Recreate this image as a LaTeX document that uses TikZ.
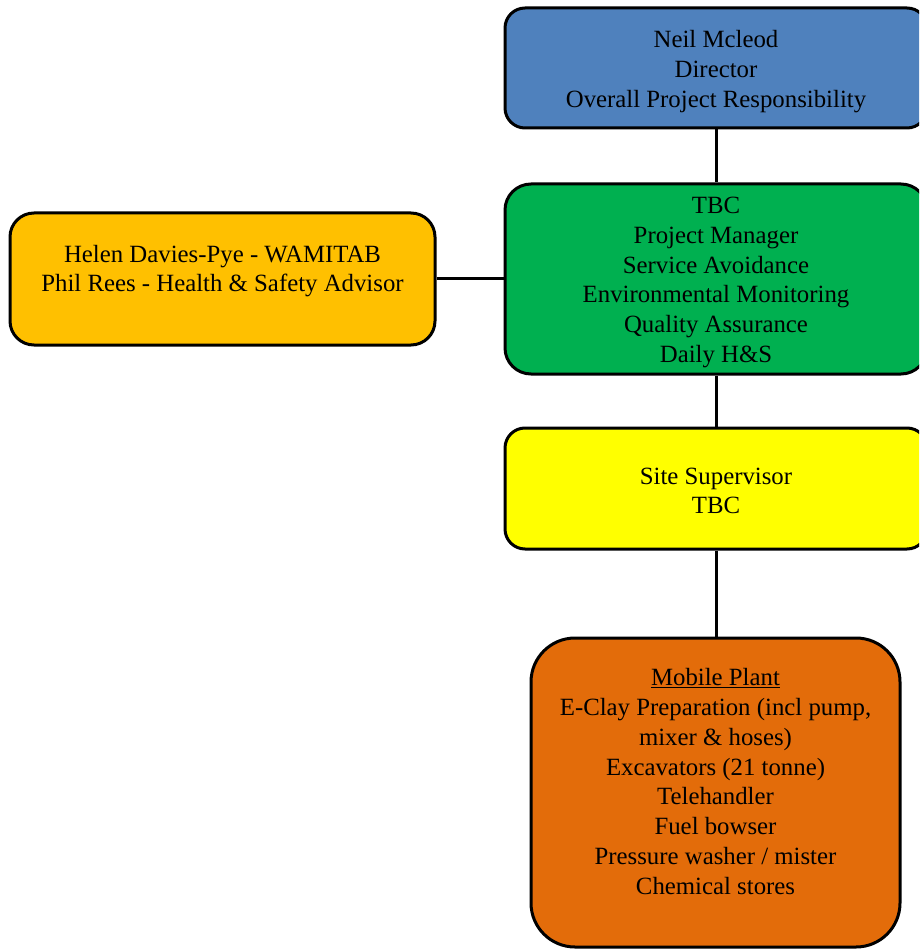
\documentclass[tikz,border=0pt]{standalone}
\usepackage{fontspec}
\setmainfont{Liberation Serif}
\definecolor{cblue}{RGB}{79,129,189}
\definecolor{cgreen}{RGB}{0,176,80}
\definecolor{cgold}{RGB}{255,192,0}
\definecolor{cyellow}{RGB}{255,255,0}
\definecolor{corange}{RGB}{227,108,10}
\begin{document}
\begin{tikzpicture}[x=1pt,y=-1pt,
  box/.style={draw=black,line width=3pt,rectangle,rounded corners=20pt,inner sep=0pt},
  txt/.style={inner sep=0pt,align=center,font={\fontsize{24.8pt}{29.8pt}\selectfont}},
  link/.style={draw=black,line width=3pt}]
\useasboundingbox (0,0) rectangle (919,949);
\clip (0,0) rectangle (919,949);
% boxes
\node[box,fill=cblue,minimum width=422pt,minimum height=120pt] (dir) at (716,68) {};
\node[txt] (dirtxt) at (716,71.5) {Neil Mcleod\\Director\\Overall Project Responsibility};
\node[box,fill=cgreen,rounded corners=26pt,minimum width=422pt,minimum height=190pt] (pm) at (716,279) {};
\node[txt] (pmtxt) at (716,282.5) {TBC\\Project Manager\\Service Avoidance\\Environmental Monitoring\\Quality Assurance\\Daily H\&S};
\node[box,fill=cgold,rounded corners=24pt,minimum width=425pt,minimum height=132pt] (adv) at (222.5,279) {};
\node[txt] (advtxt) at (222.5,271) {Helen Davies-Pye - WAMITAB\\Phil Rees - Health \& Safety Advisor};
\node[box,fill=cyellow,minimum width=422pt,minimum height=121pt] (sup) at (716,488.5) {};
\node[txt] (suptxt) at (716,491) {Site Supervisor\\TBC};
\node[box,fill=corange,rounded corners=44pt,minimum width=369pt,minimum height=309pt] (plant) at (715.5,792.5) {};
\node[txt] (planttxt) at (715.5,781.5) {\underline{Mobile Plant}\\E-Clay Preparation (incl pump,\\mixer \& hoses)\\Excavators (21 tonne)\\Telehandler\\Fuel bowser\\Pressure washer / mister\\Chemical stores};
% connectors
\draw[link] (dir.south) -- (pm.north);
\draw[link] (pm.south) -- (sup.north);
\draw[link] (sup.south) -- (sup.south |- plant.north);
\draw[link] (adv.east) -- (adv.east -| pm.west);
\end{tikzpicture}
\end{document}
